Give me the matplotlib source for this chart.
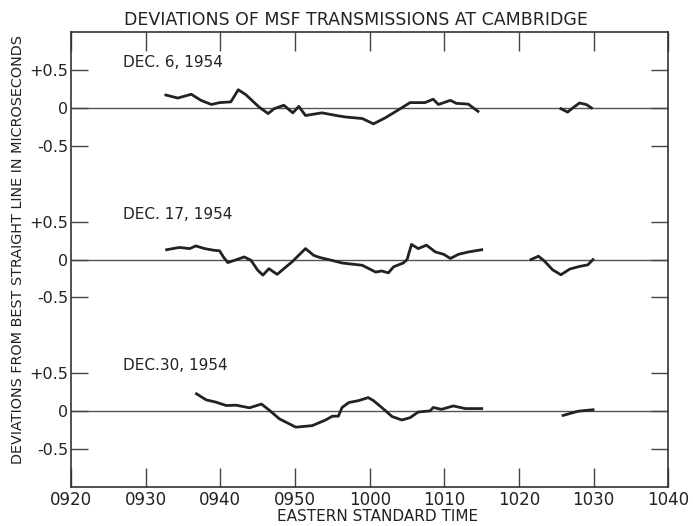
import numpy as np
from matplotlib import pyplot as plt

# minutes after 09:20, deviation in microseconds
dec6_t = [12.7, 14.3, 16.1, 17.4, 18.8, 19.9, 21.4, 22.4, 23.4, 25.2, 26.4, 27.2, 28.5, 29.7,
          30.5, 31.4, 33.6, 35.8, 36.8, 39.0, 40.5, 42.1, 44.1, 45.4, 47.4, 48.5, 49.2, 50.8,
          51.6, 53.2, 54.5]
dec6_v = [0.17, 0.13, 0.18, 0.10, 0.045, 0.07, 0.08, 0.24, 0.175, 0.01, -0.075, -0.01, 0.035, -0.065,
          0.02, -0.10, -0.065, -0.105, -0.12, -0.14, -0.21, -0.13, -0.01, 0.07, 0.07, 0.115, 0.045, 0.10,
          0.06, 0.05, -0.045]
dec6b_t = [65.6, 66.5, 67.2, 68.1, 69.0, 69.7]
dec6b_v = [-0.01, -0.055, 0.0, 0.065, 0.045, 0.0]

dec17_t = [12.8, 14.5, 15.9, 16.7, 17.9, 19.0, 19.9, 20.4, 21.0, 21.9, 23.2, 24.1, 25.0, 25.7,
           26.5, 27.6, 28.5, 29.6, 31.4, 32.5, 33.4, 34.5, 36.3, 39.0, 40.8, 41.6, 42.5, 43.2,
           44.5, 45.0, 45.6, 46.5, 47.6, 48.8, 49.9, 50.8, 51.9, 53.2, 55.0]
dec17_v = [0.13, 0.16, 0.145, 0.18, 0.145, 0.125, 0.115, 0.035, -0.04, -0.01, 0.035, -0.01, -0.14, -0.205,
           -0.12, -0.195, -0.12, -0.03, 0.145, 0.055, 0.025, 0.0, -0.045, -0.075, -0.165, -0.15, -0.175, -0.095,
           -0.045, 0.0, 0.2, 0.145, 0.19, 0.10, 0.07, 0.015, 0.07, 0.10, 0.13]
dec17b_t = [61.6, 62.6, 63.4, 64.5, 65.6, 66.8, 68.1, 69.2, 69.9]
dec17b_v = [0.0, 0.045, -0.02, -0.135, -0.2, -0.125, -0.09, -0.07, 0.0]

dec30_t = [16.8, 18.1, 19.4, 20.8, 22.1, 23.9, 25.5, 26.6, 27.9, 30.1, 32.3, 34.1, 35.0, 35.8,
           36.3, 37.2, 38.5, 39.8, 40.5, 41.6, 43.0, 44.3, 45.4, 46.5, 48.1, 48.5, 49.6, 51.2,
           52.8, 55.0]
dec30_v = [0.23, 0.15, 0.12, 0.075, 0.08, 0.045, 0.095, 0.01, -0.10, -0.21, -0.19, -0.115, -0.065, -0.065,
           0.05, 0.115, 0.14, 0.18, 0.14, 0.05, -0.07, -0.115, -0.085, -0.01, 0.005, 0.05, 0.025, 0.07,
           0.035, 0.035]
dec30b_t = [65.9, 67.9, 69.9]
dec30b_v = [-0.055, 0.0, 0.02]

labels = ["DEC. 6, 1954", "DEC. 17, 1954", "DEC.30, 1954"]
offsets = [4, 2, 0]
xlabels = ["0920", "0930", "0940", "0950", "1000", "1010", "1020", "1030", "1040"]

ink = '#222222'
plt.rcParams['font.family'] = 'DejaVu Sans'

fig = plt.figure(figsize=(6.93, 5.26), dpi=100)
ax = fig.add_axes([0.1025, 0.074, 0.862, 0.865])

traces = [(dec6_t, dec6_v, dec6b_t, dec6b_v),
          (dec17_t, dec17_v, dec17b_t, dec17b_v),
          (dec30_t, dec30_v, dec30b_t, dec30b_v)]

for (t, v, tb, vb), off, lab in zip(traces, offsets, labels):
    ax.axhline(off, color='#555555', lw=1.0, zorder=1)
    ax.plot(t, np.array(v) + off, color=ink, lw=2.0, zorder=2, solid_joinstyle='round')
    ax.plot(tb, np.array(vb) + off, color=ink, lw=2.0, zorder=2, solid_joinstyle='round')
    ax.text(7.0, off + 0.6, lab, fontsize=11, color=ink, va='center', ha='left')

ax.set_xlim(0, 80)
ax.set_ylim(-1, 5)

yt = []
ytl = []
for off in offsets:
    yt += [off + 0.5, off, off - 0.5]
    ytl += ["+0.5", "0", "-0.5"]
ax.set_yticks(yt)
ax.set_yticklabels(ytl, fontsize=11.5, color=ink)
ax.tick_params(axis='y', direction='in', length=12, width=1.0, color='#444444',
               left=True, right=True, pad=2)

ax.set_xticks(np.arange(0, 81, 10))
ax.set_xticklabels(xlabels, fontsize=12, color=ink)
ax.tick_params(axis='x', direction='in', length=14, width=1.0, color='#444444',
               top=True, bottom=True, pad=3)

for s in ax.spines.values():
    s.set_color('#333333')
    s.set_linewidth(1.2)

fig.text(0.514, 0.962, "DEVIATIONS OF MSF TRANSMISSIONS AT CAMBRIDGE",
         ha='center', va='center', fontsize=12.5, color=ink)
fig.text(0.545, 0.019, "EASTERN STANDARD TIME", ha='center', va='center', fontsize=11, color=ink)
fig.text(0.026, 0.525, "DEVIATIONS FROM BEST STRAIGHT LINE IN MICROSECONDS",
         ha='center', va='center', rotation=90, fontsize=10.4, color=ink)

fig.savefig('out.png', dpi=100)
